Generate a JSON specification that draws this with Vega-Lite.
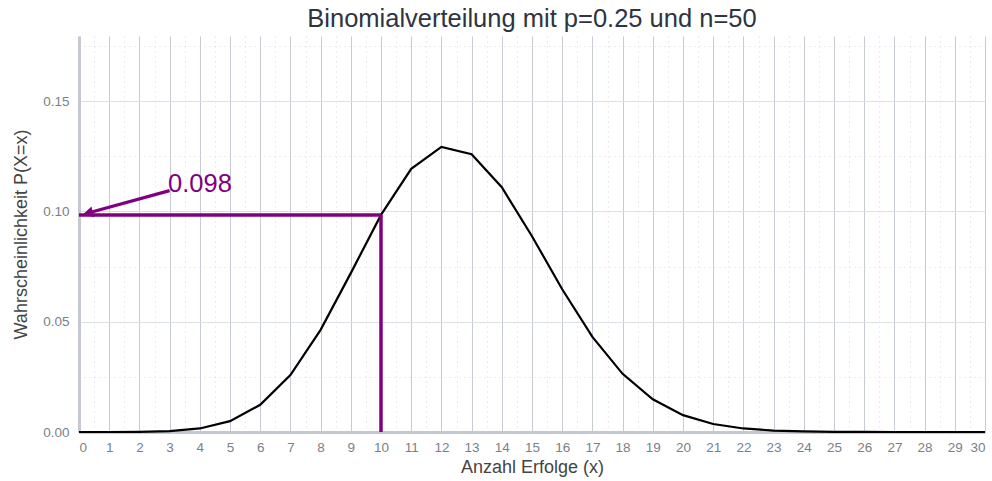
{
  "$schema": "https://vega.github.io/schema/vega-lite/v6.json",
  "width": 906,
  "height": 396,
  "autosize": {"type": "none"},
  "padding": {"left": 79, "top": 36, "right": 7, "bottom": 49},
  "background": "white",
  "title": {
    "text": "Binomialverteilung mit p=0.25 und n=50",
    "font": "Liberation Sans",
    "fontSize": 25.5,
    "fontWeight": "normal",
    "color": "#2e3440",
    "anchor": "middle",
    "offset": 4
  },
  "config": {
    "view": {"stroke": null},
    "axis": {"labelFont": "Liberation Sans", "titleFont": "Liberation Sans"}
  },
  "datasets": {
    "pmf": [
      {"k": 0, "p": 0.00000057},
      {"k": 1, "p": 0.0000094},
      {"k": 2, "p": 0.000077},
      {"k": 3, "p": 0.00041},
      {"k": 4, "p": 0.00161},
      {"k": 5, "p": 0.00493},
      {"k": 6, "p": 0.01233},
      {"k": 7, "p": 0.02584},
      {"k": 8, "p": 0.04630},
      {"k": 9, "p": 0.07202},
      {"k": 10, "p": 0.09842},
      {"k": 11, "p": 0.11930},
      {"k": 12, "p": 0.12924},
      {"k": 13, "p": 0.12593},
      {"k": 14, "p": 0.11094},
      {"k": 15, "p": 0.08875},
      {"k": 16, "p": 0.06471},
      {"k": 17, "p": 0.04314},
      {"k": 18, "p": 0.02636},
      {"k": 19, "p": 0.01480},
      {"k": 20, "p": 0.00765},
      {"k": 21, "p": 0.00364},
      {"k": 22, "p": 0.00160},
      {"k": 23, "p": 0.00065},
      {"k": 24, "p": 0.00024},
      {"k": 25, "p": 0.000084},
      {"k": 26, "p": 0.000027},
      {"k": 27, "p": 0.000008},
      {"k": 28, "p": 0.0000022},
      {"k": 29, "p": 0.00000056},
      {"k": 30, "p": 0.00000013}
    ],
    "marker": [{"k": 10, "p": 0.0984, "k0": 0, "p0": 0, "label": "0.098", "lx": 2.95, "ly": 0.1124, "ax0": 3.0, "ay0": 0.1094, "ax1": 0.3, "ay1": 0.0993}]
  },
  "layer": [
    {
      "data": {"name": "pmf"},
      "mark": {"type": "line", "opacity": 0},
      "encoding": {
        "x": {
          "field": "k", "type": "quantitative",
          "scale": {"domain": [0, 30], "nice": false, "zero": false},
          "axis": {
            "orient": "bottom",
            "values": [0.5,1.5,2.5,3.5,4.5,5.5,6.5,7.5,8.5,9.5,10.5,11.5,12.5,13.5,14.5,15.5,16.5,17.5,18.5,19.5,20.5,21.5,22.5,23.5,24.5,25.5,26.5,27.5,28.5,29.5],
            "labels": false, "ticks": false, "domain": false, "title": null,
            "grid": true, "gridColor": "#d5d9e0", "gridDash": [1, 4], "gridWidth": 1
          }
        },
        "y": {
          "field": "p", "type": "quantitative",
          "scale": {"domain": [0, 0.1795], "nice": false},
          "axis": {
            "orient": "left",
            "values": [0.025, 0.075, 0.125, 0.175],
            "labels": false, "ticks": false, "domain": false, "title": null,
            "grid": true, "gridColor": "#d5d9e0", "gridDash": [1, 4], "gridWidth": 1
          }
        }
      }
    },
    {
      "data": {"name": "pmf"},
      "mark": {"type": "line", "color": "black", "strokeWidth": 2.2},
      "encoding": {
        "x": {
          "field": "k", "type": "quantitative",
          "axis": {
            "orient": "bottom",
            "values": [0,1,2,3,4,5,6,7,8,9,10,11,12,13,14,15,16,17,18,19,20,21,22,23,24,25,26,27,28,29,30],
            "format": "d",
            "grid": true, "gridColor": "#c6cbd6", "gridWidth": 1,
            "ticks": false, "tickSize": 0,
            "domain": true, "domainColor": "#c3c8d1", "domainWidth": 3,
            "labelColor": "#7a7f88", "labelFontSize": 13.5, "labelPadding": 8,
            "title": "Anzahl Erfolge (x)", "titleFontSize": 18, "titleFontWeight": "normal",
            "titleColor": "#444", "titlePadding": 5
          }
        },
        "y": {
          "field": "p", "type": "quantitative",
          "axis": {
            "orient": "left",
            "values": [0, 0.05, 0.1, 0.15],
            "format": ".2f",
            "grid": true, "gridColor": "#dcdfe5", "gridWidth": 1,
            "ticks": false, "tickSize": 0,
            "domain": true, "domainColor": "#c3c8d1", "domainWidth": 3,
            "labelColor": "#7a7f88", "labelFontSize": 13.5, "labelPadding": 10,
            "title": "Wahrscheinlichkeit P(X=x)", "titleFontSize": 18, "titleFontWeight": "normal",
            "titleColor": "#444", "titlePadding": 12
          }
        }
      }
    },
    {
      "data": {"name": "marker"},
      "mark": {"type": "rule", "color": "#800080", "strokeWidth": 3.5},
      "encoding": {
        "x": {"field": "k", "type": "quantitative", "axis": null},
        "y": {"field": "p0", "type": "quantitative", "axis": null},
        "y2": {"field": "p"}
      }
    },
    {
      "data": {"name": "marker"},
      "mark": {"type": "rule", "color": "#800080", "strokeWidth": 3.5},
      "encoding": {
        "x": {"field": "k0", "type": "quantitative", "axis": null},
        "x2": {"field": "k"},
        "y": {"field": "p", "type": "quantitative", "axis": null}
      }
    },
    {
      "data": {"name": "marker"},
      "mark": {"type": "rule", "color": "#800080", "strokeWidth": 3.2},
      "encoding": {
        "x": {"field": "ax0", "type": "quantitative", "axis": null},
        "x2": {"field": "ax1"},
        "y": {"field": "ay0", "type": "quantitative", "axis": null},
        "y2": {"field": "ay1"}
      }
    },
    {
      "data": {"name": "marker"},
      "mark": {"type": "point", "shape": "triangle-left", "filled": true, "color": "#800080", "opacity": 1, "size": 120, "angle": -13},
      "encoding": {
        "x": {"field": "ax1", "type": "quantitative", "axis": null},
        "y": {"field": "ay1", "type": "quantitative", "axis": null}
      }
    },
    {
      "data": {"name": "marker"},
      "mark": {"type": "text", "color": "#800080", "font": "Liberation Sans", "fontSize": 25.5, "align": "left", "baseline": "middle"},
      "encoding": {
        "x": {"field": "lx", "type": "quantitative", "axis": null},
        "y": {"field": "ly", "type": "quantitative", "axis": null},
        "text": {"field": "label"}
      }
    }
  ],
  "resolve": {"axis": {"x": "independent", "y": "independent"}}
}
